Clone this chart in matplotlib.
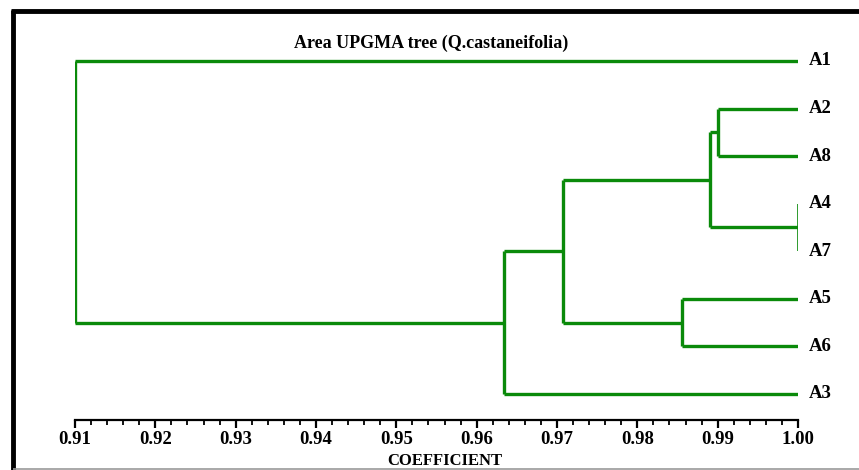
import matplotlib
matplotlib.use("Agg")
import matplotlib.pyplot as plt
from matplotlib.lines import Line2D
from matplotlib.ticker import MultipleLocator, FormatStrFormatter

# ---- data ----
leaves = ["A1", "A2", "A8", "A4", "A7", "A5", "A6", "A3"]
# merges: (left, right, coefficient); ids < 8 are leaves, others are earlier merges (8 + index)
merge_left = [3, 1, 9, 5, 10, 12, 0]
merge_right = [4, 2, 8, 6, 11, 7, 13]
merge_coef = [1.000, 0.990, 0.989, 0.9855, 0.9708, 0.9634, 0.910]
tick_values = [0.91, 0.92, 0.93, 0.94, 0.95, 0.96, 0.97, 0.98, 0.99, 1.00]
title_text = "Area UPGMA tree (Q.castaneifolia)"
xlabel_text = "COEFFICIENT"

W, H = 859, 470
fig = plt.figure(figsize=(W / 100, H / 100), dpi=100)
plt.rcParams['font.family'] = ['Liberation Serif', 'DejaVu Serif']

def px_axes(l, t, r, b):
    return [l / W, 1 - b / H, (r - l) / W, (b - t) / H]

ax = fig.add_axes(px_axes(75, 40, 798, 420))

green = "#0a8a0a"
pos_x = {i: 1.0 for i in range(len(leaves))}
pos_y = {i: float(i) for i in range(len(leaves))}
for k, (a, b, c) in enumerate(zip(merge_left, merge_right, merge_coef)):
    nid = len(leaves) + k
    lw_v = 1.2 if c >= 0.9999 else 2.4
    ax.plot([c, c], [pos_y[a], pos_y[b]], color=green, lw=lw_v, solid_capstyle='butt')
    for ch in (a, b):
        if pos_x[ch] > c + 1e-9:
            ax.plot([c, pos_x[ch]], [pos_y[ch], pos_y[ch]], color=green, lw=2.4,
                    solid_capstyle='butt')
    pos_x[nid] = c
    pos_y[nid] = (pos_y[a] + pos_y[b]) / 2

for i, name in enumerate(leaves):
    ax.annotate(name, xy=(1.0, i), xytext=(8, 0), textcoords='offset points',
                ha='left', va='center', fontsize=13.5, fontweight='bold')

ax.set_xlim(0.91, 1.00)
ax.set_ylim(7.547, -0.441)
for s in ("top", "right", "left"):
    ax.spines[s].set_visible(False)
ax.spines["bottom"].set_linewidth(1.6)
ax.set_yticks([])
ax.set_xticks(tick_values)
ax.xaxis.set_major_formatter(FormatStrFormatter('%.2f'))
ax.xaxis.set_minor_locator(MultipleLocator(0.002))
ax.tick_params(axis='x', which='major', length=6, width=1.6, labelsize=13.5, pad=2)
ax.tick_params(axis='x', which='minor', length=3.5, width=1.3)
for lab in ax.get_xticklabels():
    lab.set_fontweight('bold')
ax.patch.set_alpha(0)

fig.text(431 / W, 1 - 43 / H, title_text, ha='center', va='center',
         fontsize=13, fontweight='bold')
fig.text(445 / W, 1 - 461 / H, xlabel_text, ha='center', va='center',
         fontsize=12, fontweight='bold')

# frame
def fl(x0, y0, x1, y1, color, lw):
    fig.add_artist(Line2D([x0 / W, x1 / W], [1 - y0 / H, 1 - y1 / H],
                          color=color, lw=lw, transform=fig.transFigure,
                          solid_capstyle='butt'))
fl(13, 9.5, 13, 470, 'black', 3.5)
fl(11, 11, 859, 11, 'black', 3.5)
fl(13, 468.5, 859, 468.5, '#999999', 1.2)

fig.savefig("out.png", dpi=100)
